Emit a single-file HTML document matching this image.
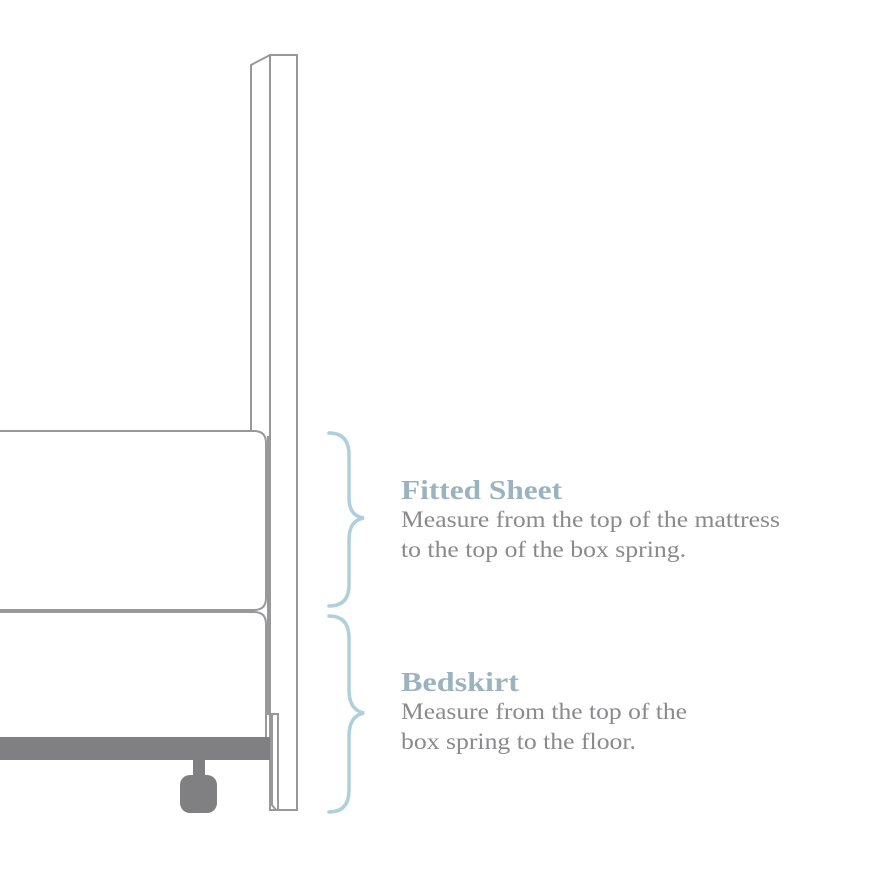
<!DOCTYPE html>
<html><head><style>html,body{margin:0;padding:0;background:#fff}svg{display:block}</style></head>
<body>
<svg width="885" height="888" viewBox="0 0 885 888" xmlns="http://www.w3.org/2000/svg">
<g fill="none" stroke="#98989b" stroke-width="2">
  <rect x="270" y="55" width="27" height="755"/>
  <path d="M270 55 L251 65 L251 431"/>
  <path d="M0 431 H254 Q266 431 266 443 V598 Q266 610 254 610 H0"/>
  <path d="M0 612 H254 Q266 612 266 624 V737"/>
  <path d="M268 436 V714"/>
  <path d="M267 714 H278 V810 H276 L272 805 V714"/>
</g>
<rect x="0" y="737" width="270" height="23" fill="#808083"/>
<rect x="193" y="758" width="12" height="20" fill="#808083"/>
<rect x="180" y="775" width="37" height="38" rx="10" fill="#808083"/>
<g fill="none" stroke="#aecfdb" stroke-width="3.5" stroke-linecap="round">
  <path d="M329 433 Q349 433 349 455 V498 Q349 516 364 518 Q349 520 349 540 V585 Q349 606 329 606"/>
  <path d="M329 616 Q349 616 349 638 V690 Q349 710 364 713 Q349 716 349 736 V790 Q349 812 329 812"/>
</g>
<g font-family="'Liberation Serif', serif">
  <text x="401" y="499" font-size="27" font-weight="bold" fill="#9ab3be" textLength="161" lengthAdjust="spacingAndGlyphs">Fitted Sheet</text>
  <text x="401" y="527" font-size="23" fill="#8a8a8c" textLength="379" lengthAdjust="spacingAndGlyphs">Measure from the top of the mattress</text>
  <text x="401" y="557" font-size="23" fill="#8a8a8c" textLength="285" lengthAdjust="spacingAndGlyphs">to the top of the box spring.</text>
  <text x="401" y="691" font-size="27" font-weight="bold" fill="#9ab3be" textLength="118" lengthAdjust="spacingAndGlyphs">Bedskirt</text>
  <text x="401" y="719" font-size="23" fill="#8a8a8c" textLength="286" lengthAdjust="spacingAndGlyphs">Measure from the top of the</text>
  <text x="401" y="749" font-size="23" fill="#8a8a8c" textLength="235" lengthAdjust="spacingAndGlyphs">box spring to the floor.</text>
</g>
</svg>
</body></html>
